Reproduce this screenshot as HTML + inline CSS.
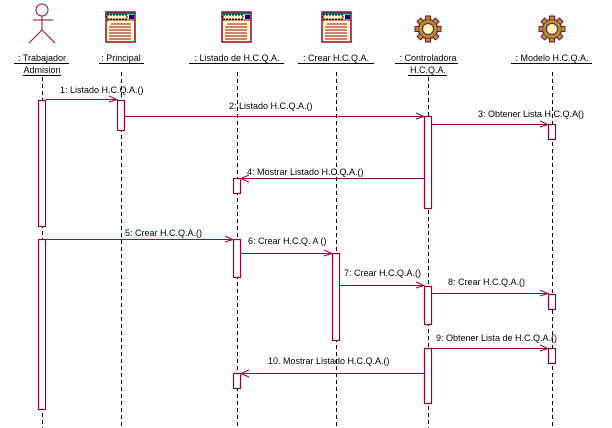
<!DOCTYPE html>
<html><head><meta charset="utf-8"><style>
html,body{margin:0;padding:0;background:#fff;}
svg{display:block;}
text{font-family:"Liberation Sans",Arial,sans-serif;font-size:9px;fill:#000;}
</style></head><body>
<svg width="612" height="428" viewBox="0 0 612 428" xmlns="http://www.w3.org/2000/svg">
<defs>
<g id="win">
<rect x="0" y="0" width="29" height="30" fill="#ffffc0" stroke="#99003f" stroke-width="1.5"/>
<rect x="0.5" y="0.5" width="28" height="2" fill="#007070"/>
<rect x="1" y="3" width="20" height="4" fill="#ffffc0" stroke="#000" stroke-width="1" stroke-dasharray="2,1"/>
<rect x="23" y="3" width="5" height="4" fill="#000080"/>
<line x1="0" y1="8" x2="29" y2="8" stroke="#99003f"/>
<g stroke="#99003f" stroke-width="1">
<line x1="5" y1="12" x2="25" y2="12"/><line x1="3" y1="15" x2="25" y2="15"/>
<line x1="3" y1="18" x2="25" y2="18"/><line x1="3" y1="21" x2="25" y2="21"/>
<line x1="3" y1="24" x2="25" y2="24"/><line x1="3" y1="27" x2="25" y2="27"/>
</g>
</g>
<g id="gear">
<circle cx="0" cy="0" r="9.5" fill="#9a9a30" stroke="#99003f" stroke-width="1.5"/>
<g fill="#9a9a30" stroke="#99003f" stroke-width="1">
<rect x="-2.5" y="-13" width="5" height="4"/><rect x="-2.5" y="9" width="5" height="4"/>
<rect x="-13" y="-2.5" width="4" height="5"/><rect x="9" y="-2.5" width="4" height="5"/>
<rect x="-2.5" y="-13" width="5" height="4" transform="rotate(45)"/><rect x="-2.5" y="9" width="5" height="4" transform="rotate(45)"/>
<rect x="-13" y="-2.5" width="4" height="5" transform="rotate(45)"/><rect x="9" y="-2.5" width="4" height="5" transform="rotate(45)"/>
</g>
<circle cx="0" cy="0" r="9" fill="#9a9a30"/>
<circle cx="0" cy="0" r="5.5" fill="#ffffc0" stroke="#99003f" stroke-width="1"/>
</g>
</defs>

<!-- actor -->
<g stroke="#99003f" stroke-width="1" fill="none">
<circle cx="42" cy="10" r="6"/>
<line x1="42" y1="16" x2="42" y2="30"/>
<line x1="33" y1="20" x2="53" y2="20"/>
<line x1="42" y1="30" x2="29" y2="43"/>
<line x1="42" y1="30" x2="55" y2="43"/>
</g>
<use href="#win" x="106" y="12"/>
<use href="#win" x="222" y="12"/>
<use href="#win" x="322" y="12"/>
<use href="#gear" x="428" y="29"/>
<use href="#gear" x="552" y="29"/>

<!-- labels -->
<g text-anchor="middle">
<text x="42" y="61">: Trabajador</text><text x="42" y="73">Admision</text>
<text x="121" y="61">: Principal</text>
<text x="237" y="61">: Listado de H.C.Q.A.</text>
<text x="336" y="61">: Crear H.C.Q.A.</text>
<text x="428" y="61">: Controladora</text><text x="428" y="73">H.C.Q.A.</text>
<text x="552" y="61">: Modelo H.C.Q.A.</text>
</g>
<g stroke="#000" stroke-width="1">
<line x1="14" y1="63.5" x2="69" y2="63.5"/><line x1="23" y1="75.5" x2="61" y2="75.5"/>
<line x1="99" y1="63.5" x2="144" y2="63.5"/>
<line x1="189" y1="63.5" x2="284" y2="63.5"/>
<line x1="298" y1="63.5" x2="374" y2="63.5"/>
<line x1="395" y1="63.5" x2="458" y2="63.5"/><line x1="408" y1="75.5" x2="447" y2="75.5"/>
<line x1="511" y1="63.5" x2="592" y2="63.5"/>
</g>

<!-- lifelines -->
<g stroke="#000" stroke-width="1" stroke-dasharray="4,3">
<line x1="42.5" y1="77" x2="42.5" y2="428"/>
<line x1="121.5" y1="72" x2="121.5" y2="428"/>
<line x1="237.5" y1="72" x2="237.5" y2="428"/>
<line x1="336.5" y1="72" x2="336.5" y2="428"/>
<line x1="428.5" y1="77" x2="428.5" y2="428"/>
<line x1="552.5" y1="72" x2="552.5" y2="428"/>
</g>

<!-- activations -->
<g fill="#fff" stroke="#99003f" stroke-width="1.2">
<rect x="38.5" y="100.5" width="7" height="126"/>
<rect x="38.5" y="239.5" width="7" height="170"/>
<rect x="117.5" y="100.5" width="7" height="30"/>
<rect x="424.5" y="116.5" width="7" height="92"/>
<rect x="548.5" y="124.5" width="7" height="15"/>
<rect x="233.5" y="178.5" width="7" height="15"/>
<rect x="233.5" y="239.5" width="7" height="38"/>
<rect x="332.5" y="253.5" width="7" height="87"/>
<rect x="424.5" y="286.5" width="7" height="38"/>
<rect x="548.5" y="294.5" width="7" height="15"/>
<rect x="424.5" y="348.5" width="7" height="55"/>
<rect x="548.5" y="348.5" width="7" height="15"/>
<rect x="233.5" y="373.5" width="7" height="15"/>
</g>

<!-- messages -->
<g stroke="#99003f" stroke-width="1" fill="none">
<line x1="46" y1="99.5" x2="117" y2="99.5"/><polyline points="109,96 117,99.5 109,102"/>
<line x1="125" y1="116.5" x2="424" y2="116.5"/><polyline points="416,113 424,116.5 416,119"/>
<line x1="432" y1="124.5" x2="548" y2="124.5"/><polyline points="540,121 548,124.5 540,127"/>
<line x1="424" y1="178.5" x2="241" y2="178.5"/><polyline points="249,175 241,178.5 249,182"/>
<line x1="46" y1="239.5" x2="233" y2="239.5"/><polyline points="225,236 233,239.5 225,242"/>
<line x1="241" y1="253.5" x2="332" y2="253.5"/><polyline points="324,250 332,253.5 324,256"/>
<line x1="340" y1="285.5" x2="424" y2="285.5"/><polyline points="416,282 424,285.5 416,288"/>
<line x1="432" y1="293.5" x2="548" y2="293.5"/><polyline points="540,290 548,293.5 540,296"/>
<line x1="432" y1="348.5" x2="548" y2="348.5"/><polyline points="540,345 548,348.5 540,351"/>
<line x1="424" y1="373.5" x2="241" y2="373.5"/><polyline points="249,370 241,373.5 249,377"/>
</g>
<g>
<text x="60" y="93">1: Listado H.C.Q.A.()</text>
<text x="229" y="109">2: Listado H.C.Q.A.()</text>
<text x="478" y="117">3: Obtener Lista H.C.Q.A()</text>
<text x="247" y="175">4: Mostrar Listado H.C.Q.A.()</text>
<text x="125" y="236">5: Crear H.C.Q.A.()</text>
<text x="248" y="244">6: Crear H.C.Q. A ()</text>
<text x="344" y="276">7: Crear H.C.Q.A.()</text>
<text x="448" y="285">8: Crear H.C.Q.A.()</text>
<text x="436" y="341">9: Obtener Lista de H.C.Q.A.()</text>
<text x="268" y="364">10. Mostrar Listado H.C.Q.A.()</text>
</g>
</svg>
</body></html>
